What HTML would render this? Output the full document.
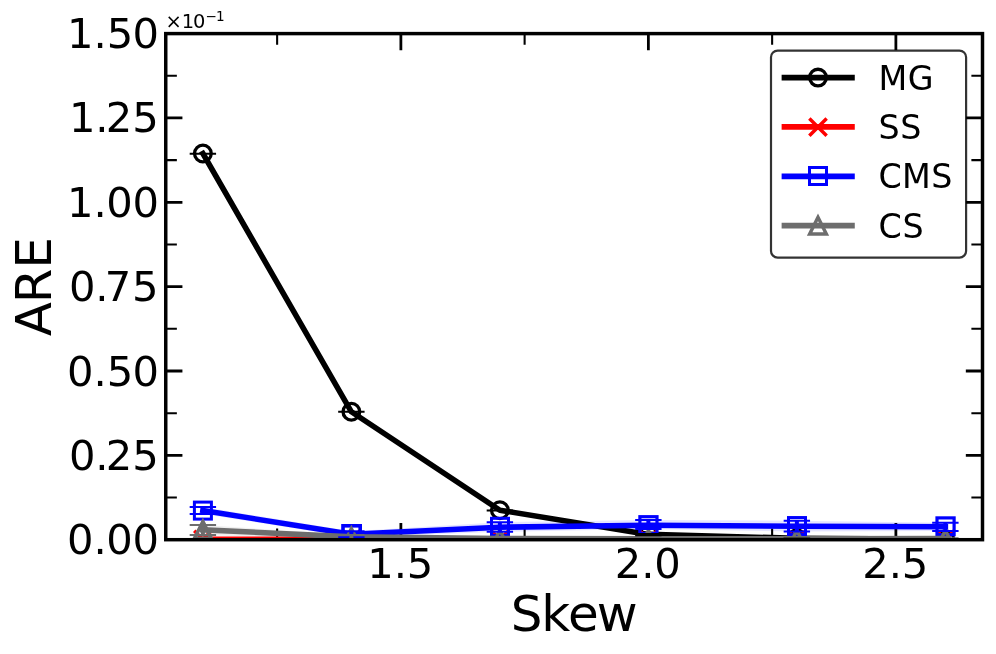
<!DOCTYPE html>
<html lang="en"><head><meta charset="utf-8"><title>ARE vs Skew</title>
<style>html,body{margin:0;padding:0;background:#fff}body{width:996px;height:654px;overflow:hidden}svg{display:block}text{font-family:"DejaVu Sans","Liberation Sans",sans-serif;fill:#000}</style></head><body>
<svg width="996" height="654" viewBox="0 0 996 654">
<rect width="996" height="654" fill="#fff"/>
<defs><clipPath id="ax"><rect x="165.75" y="33.6" width="816.75" height="506.1"/></clipPath></defs>
<g clip-path="url(#ax)" stroke="none">
<polygon points="202.88,153.8 351.38,411.8 499.88,510.4 648.38,534.1 796.87,538.3 945.38,539.2 945.38,539.2 796.87,538.3 648.38,535.2 499.88,510.4 351.38,411.8 202.88,153.8" fill="#000000" fill-opacity="0.1"/>
<polygon points="202.88,539.1 351.38,539.1 499.88,539.1 648.38,539.1 796.87,539.1 945.38,539.1 945.38,539.5 796.87,539.5 648.38,539.5 499.88,539.5 351.38,539.5 202.88,539.5" fill="#ff0000" fill-opacity="0.1"/>
<polygon points="202.88,507 351.38,531.2 499.88,522.2 648.38,519.9 796.87,520.8 945.38,522.7 945.38,530.9 796.87,531.6 648.38,529.05 499.88,531.8 351.38,537.2 202.88,514" fill="#0000ff" fill-opacity="0.1"/>
<polygon points="202.88,525 351.38,535 499.88,538 648.38,538.4 796.87,538.4 945.38,538.2 945.38,539 796.87,539.2 648.38,539.2 499.88,539.2 351.38,539.2 202.88,535.1" fill="#6d6d6d" fill-opacity="0.1"/>
</g>
<g stroke="#000" fill="none">
<path d="M400.88 539.7v-16.67M400.88 33.6v16.67M648.38 539.7v-16.67M648.38 33.6v16.67M895.88 539.7v-16.67M895.88 33.6v16.67M165.75 539.7h16.67M982.5 539.7h-16.67M165.75 455.35h16.67M982.5 455.35h-16.67M165.75 371h16.67M982.5 371h-16.67M165.75 286.65h16.67M982.5 286.65h-16.67M165.75 202.3h16.67M982.5 202.3h-16.67M165.75 117.95h16.67M982.5 117.95h-16.67M165.75 33.6h16.67M982.5 33.6h-16.67" stroke-width="2.78"/>
<path d="M277.13 539.7v-11.11M277.13 33.6v11.11M524.62 539.7v-11.11M524.62 33.6v11.11M772.13 539.7v-11.11M772.13 33.6v11.11M165.75 497.53h11.11M982.5 497.53h-11.11M165.75 413.18h11.11M982.5 413.18h-11.11M165.75 328.83h11.11M982.5 328.83h-11.11M165.75 244.48h11.11M982.5 244.48h-11.11M165.75 160.12h11.11M982.5 160.12h-11.11M165.75 75.78h11.11M982.5 75.78h-11.11" stroke-width="2.08"/>
</g>
<g clip-path="url(#ax)">
<polyline points="202.88,153.5 351.38,411.8 499.88,510.2 648.38,534.4 796.87,538.3 945.38,539.2" fill="none" stroke="#000000" stroke-width="5.56" stroke-linecap="square" stroke-linejoin="round"/>
<circle cx="202.88" cy="153.5" r="8.34" fill="none" stroke="#000000" stroke-width="3.3"/>
<circle cx="351.38" cy="411.8" r="8.34" fill="none" stroke="#000000" stroke-width="3.3"/>
<circle cx="499.88" cy="510.2" r="8.34" fill="none" stroke="#000000" stroke-width="3.3"/>
<circle cx="648.38" cy="534.4" r="8.34" fill="none" stroke="#000000" stroke-width="3.3"/>
<circle cx="796.87" cy="538.3" r="8.34" fill="none" stroke="#000000" stroke-width="3.3"/>
<circle cx="945.38" cy="539.2" r="8.34" fill="none" stroke="#000000" stroke-width="3.3"/>
<polyline points="202.88,539.3 351.38,539.3 499.88,539.3 648.38,539.3 796.87,539.3 945.38,539.3" fill="none" stroke="#ff0000" stroke-width="5.56" stroke-linecap="square" stroke-linejoin="round"/>
<path d="M194.23 530.8L211.53 548.1M194.23 548.1L211.53 530.8" fill="none" stroke="#ff0000" stroke-width="3.47"/>
<path d="M342.73 530.8L360.02 548.1M342.73 548.1L360.02 530.8" fill="none" stroke="#ff0000" stroke-width="3.47"/>
<path d="M491.23 530.8L508.53 548.1M491.23 548.1L508.53 530.8" fill="none" stroke="#ff0000" stroke-width="3.47"/>
<path d="M639.73 530.8L657.02 548.1M639.73 548.1L657.02 530.8" fill="none" stroke="#ff0000" stroke-width="3.47"/>
<path d="M788.22 530.8L805.52 548.1M788.22 548.1L805.52 530.8" fill="none" stroke="#ff0000" stroke-width="3.47"/>
<path d="M936.73 530.8L954.03 548.1M936.73 548.1L954.03 530.8" fill="none" stroke="#ff0000" stroke-width="3.47"/>
<polyline points="202.88,510.5 351.38,534.3 499.88,527.2 648.38,525.3 796.87,526.2 945.38,526.7" fill="none" stroke="#0000ff" stroke-width="5.56" stroke-linecap="square" stroke-linejoin="round"/>
<rect x="194.4" y="502.1" width="17" height="17" fill="none" stroke="#0000ff" stroke-width="3"/>
<rect x="343" y="525.8" width="17.2" height="16.4" fill="none" stroke="#0000ff" stroke-width="3.6"/>
<rect x="491.5" y="518.3" width="17" height="17" fill="none" stroke="#0000ff" stroke-width="3"/>
<rect x="639.9" y="516.7" width="17.1" height="16.8" fill="none" stroke="#0000ff" stroke-width="3.2"/>
<rect x="788.5" y="517.55" width="17" height="17" fill="none" stroke="#0000ff" stroke-width="3"/>
<rect x="937" y="517.9" width="17.1" height="16.8" fill="none" stroke="#0000ff" stroke-width="3.2"/>
<polyline points="202.88,529.8 351.38,536.9 499.88,538.6 648.38,538.8 796.87,538.8 945.38,538.6" fill="none" stroke="#6d6d6d" stroke-width="5.56" stroke-linecap="square" stroke-linejoin="round"/>
<path d="M202.88 521.46L194.54 538.13L211.21 538.13Z" fill="none" stroke="#6d6d6d" stroke-width="3.47" stroke-linejoin="miter" stroke-miterlimit="10"/>
<path d="M351.38 528.56L343.04 545.24L359.71 545.24Z" fill="none" stroke="#6d6d6d" stroke-width="3.47" stroke-linejoin="miter" stroke-miterlimit="10"/>
<path d="M499.88 530.26L491.54 546.94L508.21 546.94Z" fill="none" stroke="#6d6d6d" stroke-width="3.47" stroke-linejoin="miter" stroke-miterlimit="10"/>
<path d="M648.38 530.46L640.04 547.13L656.71 547.13Z" fill="none" stroke="#6d6d6d" stroke-width="3.47" stroke-linejoin="miter" stroke-miterlimit="10"/>
<path d="M796.87 530.46L788.54 547.13L805.21 547.13Z" fill="none" stroke="#6d6d6d" stroke-width="3.47" stroke-linejoin="miter" stroke-miterlimit="10"/>
<path d="M945.38 530.26L937.04 546.94L953.71 546.94Z" fill="none" stroke="#6d6d6d" stroke-width="3.47" stroke-linejoin="miter" stroke-miterlimit="10"/>
<path d="M648.38 534.1V535.2" fill="none" stroke="#000000" stroke-width="4.0"/>
<path d="M189.68 153.8h26.4M338.18 411.8h26.4M486.68 510.4h26.4M635.17 534.1h26.4M635.17 535.2h26.4M783.67 538.3h26.4M932.18 539.2h26.4" fill="none" stroke="#000000" stroke-width="2.0"/>
<path d="M202.88 539.1V539.5M351.38 539.1V539.5M499.88 539.1V539.5M648.38 539.1V539.5M796.87 539.1V539.5M945.38 539.1V539.5" fill="none" stroke="#ff0000" stroke-width="4.0"/>
<path d="M189.68 539.1h26.4M189.68 539.5h26.4M338.18 539.1h26.4M338.18 539.5h26.4M486.68 539.1h26.4M486.68 539.5h26.4M635.17 539.1h26.4M635.17 539.5h26.4M783.67 539.1h26.4M783.67 539.5h26.4M932.18 539.1h26.4M932.18 539.5h26.4" fill="none" stroke="#ff0000" stroke-width="2.0"/>
<path d="M202.88 507V514M351.38 531.2V537.2M499.88 522.2V531.8M648.38 519.9V529.05M796.87 520.8V531.6M945.38 522.7V530.9" fill="none" stroke="#0000ff" stroke-width="4.0"/>
<path d="M189.68 507h26.4M189.68 514h26.4M338.18 531.2h26.4M338.18 537.2h26.4M486.68 522.2h26.4M486.68 531.8h26.4M635.17 519.9h26.4M635.17 529.05h26.4M783.67 520.8h26.4M783.67 531.6h26.4M932.18 522.7h26.4M932.18 530.9h26.4" fill="none" stroke="#0000ff" stroke-width="2.0"/>
<path d="M202.88 525V535.1M351.38 535V539.2M499.88 538V539.2M648.38 538.4V539.2M796.87 538.4V539.2M945.38 538.2V539" fill="none" stroke="#6d6d6d" stroke-width="4.0"/>
<path d="M189.68 525h26.4M189.68 535.1h26.4M338.18 535h26.4M338.18 539.2h26.4M486.68 538h26.4M486.68 539.2h26.4M635.17 538.4h26.4M635.17 539.2h26.4M783.67 538.4h26.4M783.67 539.2h26.4M932.18 538.2h26.4M932.18 539h26.4" fill="none" stroke="#6d6d6d" stroke-width="2.0"/>
</g>
<rect x="165.75" y="33.6" width="816.75" height="506.1" fill="none" stroke="#000" stroke-width="3.47" stroke-linejoin="miter"/>
<text x="67.1 93.5 106.3 132.6" y="554.2" font-size="41.67">0.00</text>
<text x="68.95 95.35 105.75 132.2" y="469.85" font-size="41.67">0.25</text>
<text x="67.1 93.5 106.8 132.6" y="385.5" font-size="41.67">0.50</text>
<text x="68.95 95.35 104.8 132.1" y="301.15" font-size="41.67">0.75</text>
<text x="67.1 93.5 106.3 132.6" y="216.8" font-size="41.67">1.00</text>
<text x="68.95 95.35 105.75 132.2" y="132.45" font-size="41.67">1.25</text>
<text x="67.1 93.5 106.8 132.6" y="48.1" font-size="41.67">1.50</text>
<text x="367.28 393.83 406.78" y="577.6" font-size="41.67">1.5</text>
<text x="614.77 641.32 654.27" y="577.6" font-size="41.67">2.0</text>
<text x="862.28 888.83 901.78" y="577.6" font-size="41.67">2.5</text>
<text x="165.5 181.7 193.1" y="28.3" font-size="19.44">×10<tspan font-size="13.6" x="205.6 215.9" dy="-7.5">−1</tspan></text>
<text x="510.8 541.2 568 596.8" y="630.7" font-size="50">Skew</text>
<text transform="translate(50.7 286.8) rotate(-90)" x="-49.4 -16.5 18.1" y="0" font-size="50">ARE</text>
<rect x="771" y="50.6" width="195.1" height="207" rx="6.67" ry="6.67" fill="#fff" fill-opacity="0.8" stroke="#000" stroke-opacity="0.8" stroke-width="2.2"/>
<path d="M784.4 77.6H852" stroke="#000000" stroke-width="5.56" stroke-linecap="square" fill="none"/>
<circle cx="818" cy="77.6" r="8.34" fill="none" stroke="#000000" stroke-width="3.3"/>
<text x="878.6 907.7" y="89.7" font-size="33.33">MG</text>
<path d="M784.4 126.9H852" stroke="#ff0000" stroke-width="5.56" stroke-linecap="square" fill="none"/>
<path d="M809.35 118.4L826.65 135.7M809.35 135.7L826.65 118.4" fill="none" stroke="#ff0000" stroke-width="3.47"/>
<text x="878.4 900.2" y="139.0" font-size="33.33">SS</text>
<path d="M784.4 176.4H852" stroke="#0000ff" stroke-width="5.56" stroke-linecap="square" fill="none"/>
<rect x="809.5" y="167.5" width="17" height="17" fill="none" stroke="#0000ff" stroke-width="3"/>
<text x="878.6 901.9 931.2" y="188.4" font-size="33.33">CMS</text>
<path d="M784.4 225.6H852" stroke="#6d6d6d" stroke-width="5.56" stroke-linecap="square" fill="none"/>
<path d="M818 217.26L809.66 233.94L826.34 233.94Z" fill="none" stroke="#6d6d6d" stroke-width="3.47" stroke-linejoin="miter" stroke-miterlimit="10"/>
<text x="878.6 902.4" y="237.7" font-size="33.33">CS</text>
</svg></body></html>
